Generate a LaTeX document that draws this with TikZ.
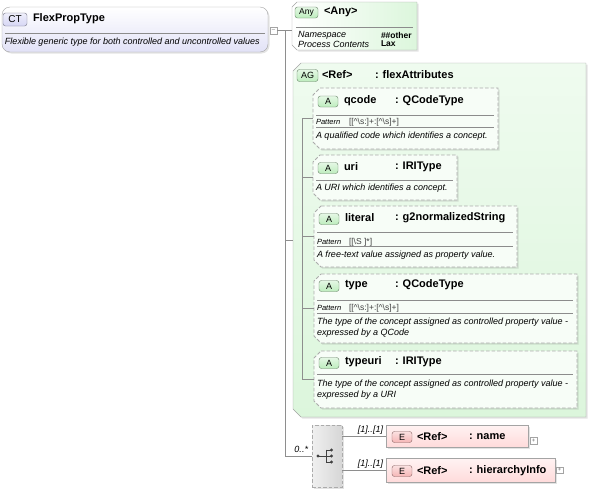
\documentclass[tikz,border=0pt]{standalone}
\usepackage{fontspec}
\setmainfont{Liberation Sans}
\usetikzlibrary{positioning,shadows,calc}
\definecolor{ctfill}{HTML}{E2E2F7}
\definecolor{agfill}{HTML}{DCF6DC}
\definecolor{efill}{HTML}{FFDADA}
\definecolor{wire}{HTML}{8E8E8E}
\definecolor{frame}{HTML}{A4A4A4}
\definecolor{abadge}{HTML}{BDEDBD}
\definecolor{ebadge}{HTML}{F5B5B5}
\definecolor{ctbadge}{HTML}{D6D6F4}

\begin{document}
\begin{tikzpicture}[x=1pt,y=-1pt,
every node/.style={inner sep=0pt,outer sep=0pt},
softshadow/.style={drop shadow={opacity=0.22,shadow xshift=1.5pt,shadow yshift=-1.5pt}},
area/.style={anchor=north west},
ctbox/.style={draw=frame,rounded corners=8pt,top color=white,bottom color=ctfill,softshadow,anchor=north west},
anyframe/.style={draw=frame,left color=white,right color=agfill,softshadow},
agframe/.style={draw=frame,top color=agfill!45!white,bottom color=agfill,softshadow},
attframe/.style={draw=black!33,line width=0.8pt,dash pattern=on 3.5pt off 2pt,fill=agfill!22!white,softshadow},
ebox/.style={draw=frame,top color=efill!35!white,bottom color=efill,softshadow,anchor=north west},
seqbox/.style={draw=black!33,line width=0.8pt,dash pattern=on 3.5pt off 2pt,left color=black!6,right color=black!16,softshadow,anchor=north west},
badge/.style={draw=#1!55!black,top color=#1!40!white,bottom color=#1,rounded corners=2.5pt,
 minimum width=20pt,minimum height=11pt,font=\fontsize{9}{9}\selectfont},
toggle/.style={draw=frame,fill=white,minimum size=6.5pt,font=\fontsize{6}{6}\selectfont,text=black!60},
hdr/.style={anchor=west,font=\fontsize{11}{13}\selectfont\bfseries},
note/.style={anchor=west,align=left,font=\fontsize{9}{11}\selectfont\itshape},
patlabel/.style={anchor=west,font=\fontsize{7.5}{8}\selectfont\itshape},
pat/.style={anchor=west,font=\fontsize{8.5}{9}\selectfont,text=black!75},
card/.style={anchor=south east,font=\fontsize{9}{10}\selectfont\itshape},
rule/.style={draw=black!45,line width=0.5pt},
wire/.style={draw=wire,line width=0.6pt}]
\useasboundingbox (0,0) rectangle (592,490);

% complex type
\node[ctbox,minimum width=266pt,minimum height=45pt] (ct) at (2,7) {};
\node[badge=ctbadge,minimum width=24pt,minimum height=13pt,font=\fontsize{10}{10}\selectfont] (ctbadge) at (15,19.5) {CT};
\node[hdr] (ctname) at (33,19) {FlexPropType};
\draw[rule] ($(ct.north west)+(3,26)$) -- ($(ct.north east)+(-3,26)$);
\node[note] (ctnote) at (5,42) {Flexible generic type for both controlled and uncontrolled values};
\node[toggle] (ctminus) at (273.5,30.5) {--};

% any
\node[area,minimum width=125pt,minimum height=48pt] (any) at (292,2) {};
\draw[anyframe] ([xshift=5pt]any.north west) -- (any.north east) -- (any.south east)
 -- ([xshift=5pt]any.south west) -- ([yshift=5pt]any.south west) -- ([yshift=-5pt]any.north west) -- cycle;
\node[badge=abadge,minimum width=23pt,font=\fontsize{8.5}{8.5}\selectfont] (anybadge) at (306.5,12.5) {Any};
\node[hdr] (anyname) at (324,12) {<Any>};
\draw[rule] ($(any.north west)+(4,25)$) -- ($(any.north east)+(-4,25)$);
\node[note] (anyns) at (298,35) {Namespace};
\node[note] (anypc) at (298,44) {Process Contents};
\node[pat,font=\fontsize{8.5}{9}\selectfont\bfseries,text=black] (anynsv) at (381,35) {\#\#other};
\node[pat,font=\fontsize{8.5}{9}\selectfont\bfseries,text=black] (anypcv) at (381,44) {Lax};

% attribute group
\node[area,minimum width=293pt,minimum height=354pt] (ag) at (293,63) {};
\draw[agframe] ([xshift=8pt]ag.north west) -- (ag.north east) -- (ag.south east)
 -- ([xshift=8pt]ag.south west) -- ([yshift=8pt]ag.south west) -- ([yshift=-8pt]ag.north west) -- cycle;
\node[badge=abadge,minimum width=21pt,minimum height=12pt] (agbadge) at (307.5,75.5) {AG};
\node[hdr] (agref) at (322,75) {<Ref>};
\node[hdr] (agname) at (375,75) {: flexAttributes};

% attribute boxes
\node[area,minimum width=185pt,minimum height=61pt] (qcode) at (313,88) {};
\node[area,minimum width=144pt,minimum height=45pt] (uri) at (313,155) {};
\node[area,minimum width=203pt,minimum height=61pt] (literal) at (314,206) {};
\node[area,minimum width=263pt,minimum height=69pt] (type) at (314,274) {};
\node[area,minimum width=263pt,minimum height=57pt] (typeuri) at (314,351) {};
\foreach \att in {qcode,uri,literal,type,typeuri}
 \draw[attframe] ([xshift=7pt]\att.north west) -- (\att.north east) -- (\att.south east)
 -- ([xshift=7pt]\att.south west) -- ([yshift=7pt]\att.south west) -- ([yshift=-7pt]\att.north west) -- cycle;

% qcode
\node[badge=abadge] (qbadge) at (328,101.5) {A};
\node[hdr] (qname) at (344,101) {qcode};
\node[hdr] (qtype) at (395,101) {: QCodeType};
\draw[rule] ($(qcode.north west)+(3,27)$) -- ($(qcode.north east)+(-4,27)$);
\node[patlabel] (qpat) at (316,122) {Pattern};
\node[pat] (qpatv) at (349,122) {[[\string^\textbackslash s:]+:[\string^\textbackslash s]+]};
\draw[rule] ($(qcode.north west)+(3,39)$) -- ($(qcode.north east)+(-4,39)$);
\node[note] (qnote) at (316,136) {A qualified code which identifies a concept.};

% uri
\node[badge=abadge] (ubadge) at (328,168) {A};
\node[hdr] (uname) at (344,167) {uri};
\node[hdr] (utype) at (395,167) {: IRIType};
\draw[rule] ($(uri.north west)+(3,25)$) -- ($(uri.north east)+(-4,25)$);
\node[note] (unote) at (316,188) {A URI which identifies a concept.};

% literal
\node[badge=abadge] (lbadge) at (329,219) {A};
\node[hdr] (lname) at (345,218) {literal};
\node[hdr] (ltype) at (395,218) {: g2normalizedString};
\draw[rule] ($(literal.north west)+(3,26)$) -- ($(literal.north east)+(-4,26)$);
\node[patlabel] (lpat) at (317,242) {Pattern};
\node[pat] (lpatv) at (349,242) {[[\textbackslash S ]*]};
\draw[rule] ($(literal.north west)+(3,40.5)$) -- ($(literal.north east)+(-4,40.5)$);
\node[note] (lnote) at (317,255) {A free-text value assigned as property value.};

% type
\node[badge=abadge] (tbadge) at (329,286) {A};
\node[hdr] (tname) at (345,285) {type};
\node[hdr] (ttype) at (395,285) {: QCodeType};
\draw[rule] ($(type.north west)+(3,26)$) -- ($(type.north east)+(-4,26)$);
\node[patlabel] (tpat) at (317,308) {Pattern};
\node[pat] (tpatv) at (349,308) {[[\string^\textbackslash s:]+:[\string^\textbackslash s]+]};
\draw[rule] ($(type.north west)+(3,39)$) -- ($(type.north east)+(-4,39)$);
\node[note] (tnote) at (317,327.5) {The type of the concept assigned as controlled property value -\\expressed by a QCode};

% typeuri
\node[badge=abadge] (tubadge) at (329,363) {A};
\node[hdr] (tuname) at (345,362) {typeuri};
\node[hdr] (tutype) at (395,362) {: IRIType};
\draw[rule] ($(typeuri.north west)+(3,23)$) -- ($(typeuri.north east)+(-4,23)$);
\node[note] (tunote) at (317,390) {The type of the concept assigned as controlled property value -\\expressed by a URI};

% sequence
\node[seqbox,minimum width=30pt,minimum height=62pt] (seq) at (312,425) {};
\fill[black!75] (318,456) circle (1.6);
\draw[black!75,line width=0.8pt] (318,456) -- (326,456) (326,449.5) -- (326,462.5);
\foreach \yy in {450,456,462} {
 \draw[black!75,line width=0.8pt] (326,\yy) -- (331,\yy);
 \fill[black!75] (331.5,\yy) circle (1.6);
}

% elements
\node[ebox,minimum width=142pt,minimum height=22pt] (ename) at (386,425.5) {};
\node[badge=ebadge] (enbadge) at (402,437) {E};
\node[hdr] (enref) at (417,436.5) {<Ref>};
\node[hdr] (enname) at (469,436.5) {: name};
\node[toggle] (enplus) at (533.5,440.5) {+};
\node[ebox,minimum width=169pt,minimum height=24pt] (ehier) at (386,458.5) {};
\node[badge=ebadge] (ehbadge) at (402,471) {E};
\node[hdr] (ehref) at (417,470.5) {<Ref>};
\node[hdr] (ehname) at (469,470.5) {: hierarchyInfo};
\node[toggle] (ehplus) at (559.5,470) {+};

% connectors
\coordinate (spine) at (285,30.5);
\coordinate (spinebot) at (285,456);
\coordinate (agspine) at (302,0);
\draw[wire] (ctminus.east) -- (spine) -- (spine -| any.west);
\draw[wire] (spine) -- (spinebot) -- (seq.west);
\draw[wire] (spine |- ag.west) -- (ag.west);
\draw[wire] (agspine |- qcode.west) -- (agspine |- typeuri.west);
\foreach \att in {qcode,uri,literal,type,typeuri}
 \draw[wire] (agspine |- \att.west) -- (\att.west);
\draw[wire] (seq.east |- ename.west) -- (ename.west);
\draw[wire] (seq.east |- ehier.west) -- (ehier.west);
\node[card] (card0) at (308,453) {0..*};
\node[card] (card1) at (383,434) {[1]..[1]};
\node[card] (card2) at (383,468) {[1]..[1]};
\end{tikzpicture}
\end{document}
